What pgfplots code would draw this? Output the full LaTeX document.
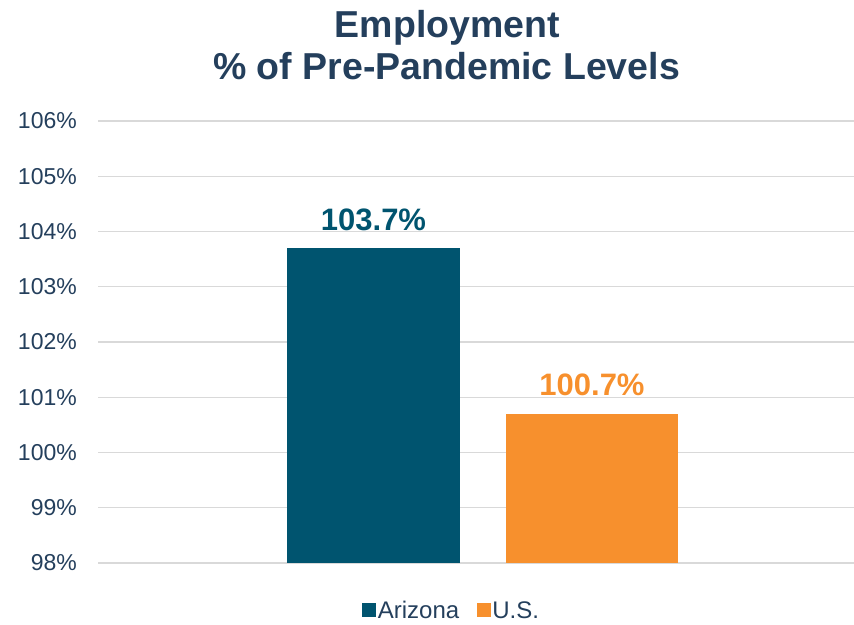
\documentclass[border=0pt]{standalone}
\usepackage{pgfplots}
\pgfplotsset{compat=1.18}
\usepackage{fontspec}
\setmainfont{Liberation Sans}
\definecolor{navy}{HTML}{243F5C}
\definecolor{azteal}{HTML}{00546F}
\definecolor{usorange}{HTML}{F7902D}
\definecolor{gridgray}{HTML}{D9D9D9}
\begin{document}
\begin{tikzpicture}[x=1pt,y=1pt]
\useasboundingbox (0,0) rectangle (854,624);
\node[anchor=base, font=\bfseries\fontsize{37.5}{40}\selectfont, text=navy, inner sep=0pt] at (447.5,586) {Employment};
\node[anchor=base, font=\bfseries\fontsize{37.5}{40}\selectfont, text=navy, inner sep=0pt] at (446.5,544) {\% of Pre-Pandemic Levels};
\begin{axis}[
  at={(98pt,61pt)}, anchor=south west,
  scale only axis, width=756pt, height=442pt,
  xmin=98, xmax=854, ymin=98, ymax=106,
  ytick={98,99,...,106}, xtick=\empty,
  axis line style={draw=none},
  major tick length=0pt,
  ymajorgrids, grid style={color=gridgray, line width=1.3pt},
  /pgf/number format/assume math mode=true,
  yticklabel={\pgfmathprintnumber{\tick}\%},
  yticklabel style={font=\fontsize{23}{27}\selectfont, text=navy, anchor=east, inner sep=0pt, xshift=-21pt},
  legend columns=2,
  legend style={draw=none, fill=none, at={(0.4675,-0.108)}, anchor=center,
     font=\fontsize{24}{28}\selectfont, text=navy, inner sep=0pt,
     nodes={inner sep=1.5pt},
     /tikz/every even column/.append style={column sep=16pt}},
  legend image code/.code={\fill[#1] (0pt,-6pt) rectangle (14pt,8pt);},
  every node near coord/.append style={anchor=base, yshift=18pt, inner sep=0pt, font=\bfseries\fontsize{31}{35}\selectfont},
  nodes near coords={\pgfmathprintnumber[fixed,fixed zerofill,precision=1]{\pgfplotspointmeta}\%},
]
\addplot[ybar, bar width=173, bar shift=0pt, fill=azteal, draw=none,
  every node near coord/.append style={text=azteal}] coordinates {(373.5,103.7)};
\addlegendentry{Arizona}
\addplot[ybar, bar width=172, bar shift=0pt, fill=usorange, draw=none,
  every node near coord/.append style={text=usorange}] coordinates {(592,100.7)};
\addlegendentry{U.S.}
\end{axis}
\end{tikzpicture}
\end{document}
